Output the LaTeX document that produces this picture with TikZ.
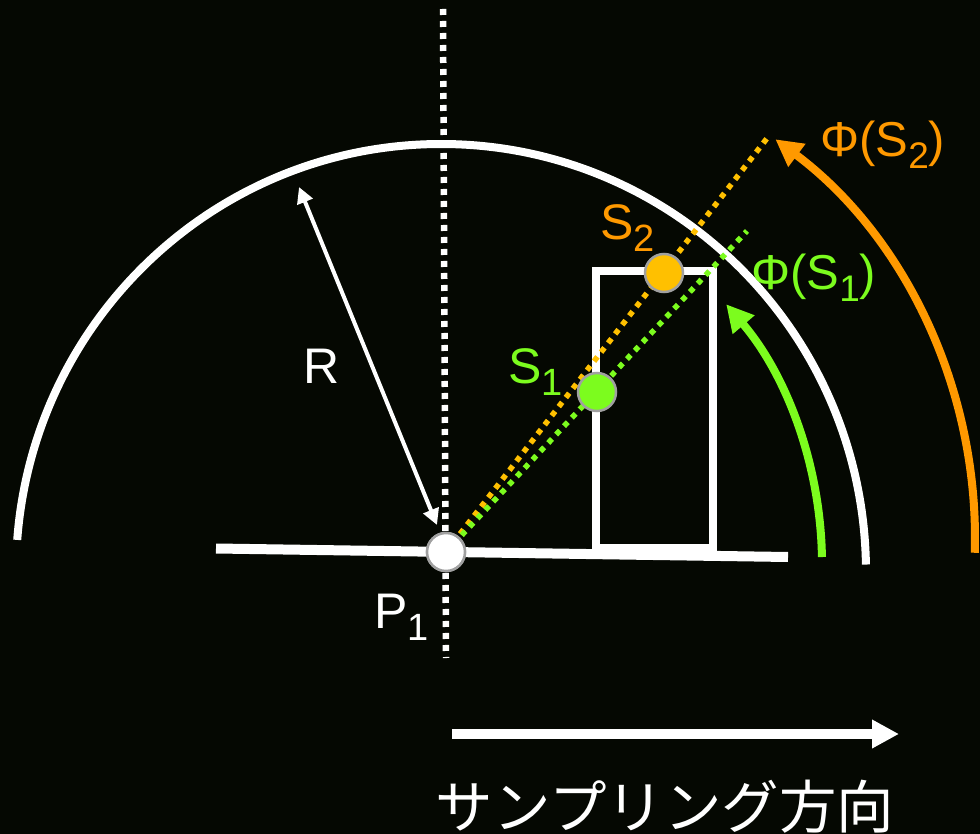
\documentclass[tikz,border=0pt]{standalone}
\usepackage{fontspec}
\setmainfont{Liberation Sans}
\newfontfamily\jpfont{Noto Sans CJK JP}
\usetikzlibrary{arrows.meta}
\definecolor{bg}{RGB}{5,8,2}
\definecolor{lgreen}{RGB}{124,252,30}
\definecolor{dorange}{RGB}{255,153,0}
\definecolor{gold}{RGB}{255,192,0}
\definecolor{ring}{RGB}{160,160,160}
\newcommand\bigsub[1]{\raisebox{-12pt}{\fontsize{38}{38}\selectfont #1}}
\newcommand\phisub[1]{\raisebox{-12pt}{\fontsize{37}{37}\selectfont #1}}
\begin{document}
\begin{tikzpicture}[x=1pt,y=-1pt,
  wline/.style={white, line width=8pt},
  dotline/.style={line width=5.5pt, dash pattern=on 5.5pt off 6pt},
  pointdot/.style={circle, draw=ring, line width=2.5pt, minimum size=38pt, inner sep=0pt},
  biglbl/.style={anchor=base west, inner sep=0pt, font=\fontsize{50}{60}\selectfont},
  philbl/.style={anchor=base west, inner sep=0pt, font=\fontsize{49}{58}\selectfont},
  bigtip/.style={-{Triangle[length=27pt,width=27pt]}}
]
\useasboundingbox (0,0) rectangle (980,834);
\fill[bg] (0,0) rectangle (980,834);

% coordinates
\coordinate (VT) at (443,9);
\coordinate (VB) at (446,658);
\coordinate (C0) at (441,572);
\coordinate (CG) at (422,564);
\coordinate (CO) at (477,538);
\coordinate (GL) at (216,548.5);
\coordinate (GR) at (788,557);
\coordinate (OE) at (768,137);
\coordinate (GE) at (747,231);
\coordinate (RT) at (299,187);
\coordinate (RB) at (437,525);
\coordinate (AL) at (452,734);
\coordinate (AR) at (899,734);

% vertical dotted axis
\draw[white, line width=6.5pt, dash pattern=on 6pt off 6pt] (VT) -- (VB);

% dome
\draw[wline] (C0) ++(-1:425 and 428) arc[start angle=-1, end angle=-175.7, x radius=425, y radius=428];

% ground
\draw[white, line width=10pt] (GL) -- (GR);

% building
\draw[white, line width=8.5pt] (596,548) rectangle (713,271);

% P1 node
\node[pointdot, fill=white] (P1) at (446,552) {};

% sight lines
\draw[gold, dotline] (P1.center) -- (OE);
\draw[lgreen, dotline] (P1.center) -- (GE);

% P1 on top of the sight lines
\node[pointdot, fill=white] (P1top) at (P1) {};

% R arrow
\draw[white, line width=4pt, {Triangle[length=16pt,width=16pt]}-{Triangle[length=16pt,width=16pt]}] (RT) -- (RB);

% angle arrows
\draw[lgreen, line width=8pt, bigtip] (CG) ++(-1:400) arc[start angle=-1, end angle=-40.5, radius=400];
\draw[dorange, line width=8pt, bigtip] (CO) ++(1.7:498) arc[start angle=1.7, end angle=-53.2, radius=498];

% sample points
\node[pointdot, fill=lgreen] (S1) at (597,392) {};
\node[pointdot, fill=gold] (S2) at (664,273) {};

% labels
\node[biglbl, white] (Rlbl) at (303,383) {R};
\node[biglbl, white] (P1lbl) at (374,628) {P\bigsub{1}};
\node[biglbl, lgreen] (S1lbl) at (508,383) {S\bigsub{1}};
\node[biglbl, dorange] (S2lbl) at (600,240) {S\bigsub{2}};
\node[philbl, lgreen] (F1lbl) at (751,290) {Φ(S\phisub{1})};
\node[philbl, dorange] (F2lbl) at (820,157) {Φ(S\phisub{2})};

% sampling direction
\draw[white, line width=10.5pt, -{Triangle[length=27pt,width=27pt]}] (AL) -- (AR);
\node[white, inner sep=0pt, font=\jpfont\fontsize{57.5}{60}\selectfont] (dir) at (665,807) {サンプリング方向};
\end{tikzpicture}
\end{document}
